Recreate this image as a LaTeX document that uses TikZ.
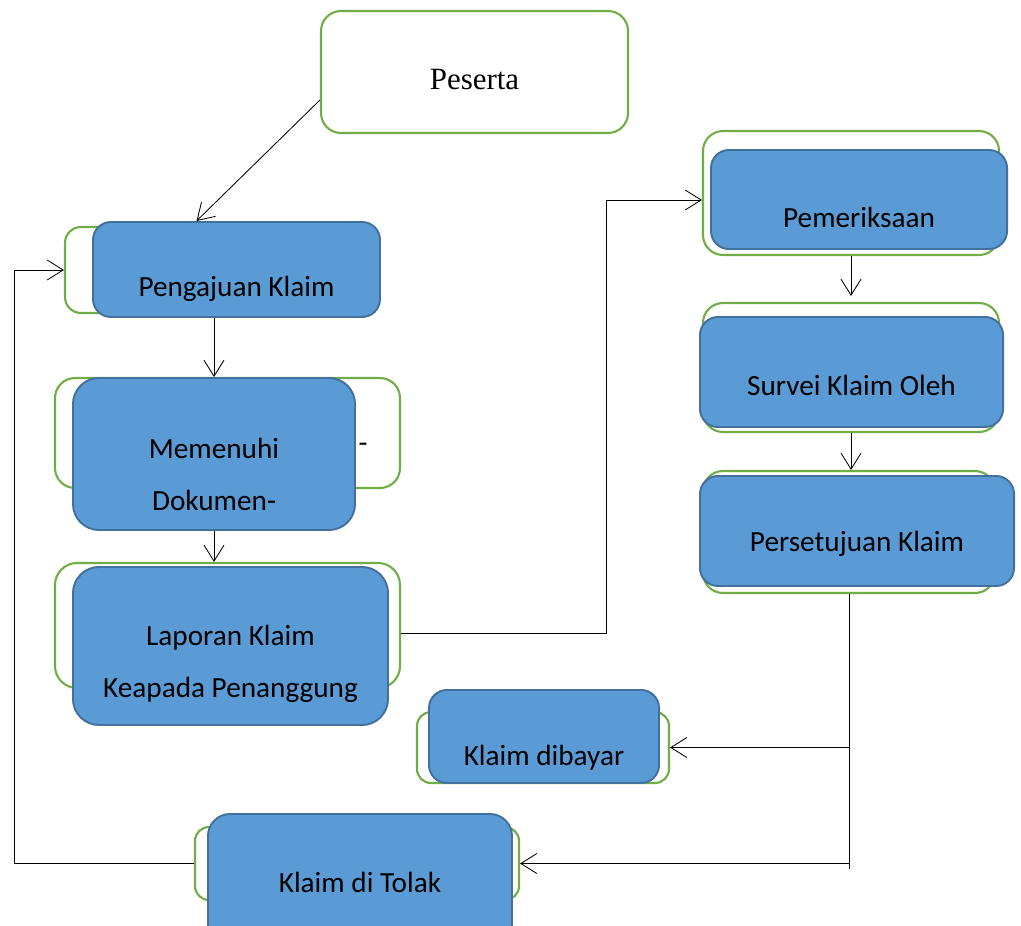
\documentclass[tikz,border=0pt]{standalone}
\usepackage{fontspec}
\setmainfont{Liberation Serif}
\newfontfamily\boxfont{Carlito}
\usetikzlibrary{arrows.meta,positioning}
\definecolor{boxblue}{HTML}{5B9BD5}
\definecolor{boxedge}{HTML}{41719C}
\definecolor{boxgreen}{HTML}{70AD47}

\begin{document}
\begin{tikzpicture}[
  >={Straight Barb[length=0.4cm,width=0.5cm]},
  greenbox/.style={draw=boxgreen,line width=1.5pt,rounded corners=0.4cm,fill=white,inner sep=0pt},
  bluebox/.style={draw=boxedge,line width=1.4pt,rounded corners=0.45cm,fill=boxblue,inner sep=0pt},
  txt/.style={font=\boxfont\fontsize{20.8}{37}\selectfont,align=center,inner sep=0pt},
  arr/.style={->,line width=0.6pt}]
\useasboundingbox (0,0) rectangle (25.525,-23.125);
\clip (0,0) rectangle (25.525,-23.125);
% left column
\node (ps) [greenbox,minimum width=7.675cm,minimum height=3.05cm,rounded corners=0.5cm,
  label={[font=\fontsize{22}{26}\selectfont,yshift=-0.2cm]center:Peserta}] at (11.8625,-1.8) {};
\node (pkg) [greenbox,minimum width=7.625cm,minimum height=2.15cm] at (5.4375,-6.75) {};
\node (pk) [bluebox,minimum width=7.175cm,minimum height=2.375cm,
  label={[txt,yshift=-0.49cm]center:Pengajuan Klaim}] at (5.9125,-6.7375) {};
\node (mmg) [greenbox,minimum width=8.625cm,minimum height=2.75cm,rounded corners=0.5cm] at (5.6875,-10.825) {};
\node (dash) [txt] at (9.075,-11.2) {-};
\node (mm) [bluebox,minimum width=7.05cm,minimum height=3.8cm,rounded corners=0.65cm,
  label={[txt,yshift=-0.5cm]center:Memenuhi\\Dokumen-}] at (5.35,-11.35) {};
\node (lpg) [greenbox,minimum width=8.625cm,minimum height=3.125cm,rounded corners=0.55cm] at (5.6875,-15.6375) {};
\node (lp) [bluebox,minimum width=7.875cm,minimum height=3.95cm,rounded corners=0.65cm,
  label={[txt,yshift=-0.45cm]center:Laporan Klaim\\Keapada Penanggung}] at (5.7625,-16.15) {};
% right column
\node (peg) [greenbox,minimum width=7.4cm,minimum height=3.1cm,rounded corners=0.5cm] at (21.275,-4.825) {};
\node (pe) [bluebox,minimum width=7.4cm,minimum height=2.475cm,
  label={[txt,yshift=-0.44cm]center:Pemeriksaan}] at (21.475,-4.9875) {};
\node (svg) [greenbox,minimum width=7.4cm,minimum height=3.225cm,rounded corners=0.5cm] at (21.275,-9.1875) {};
\node (sv) [bluebox,minimum width=7.575cm,minimum height=2.75cm,
  label={[txt,yshift=-0.33cm]center:Survei Klaim Oleh}] at (21.2875,-9.3) {};
\node (stg) [greenbox,minimum width=7.3cm,minimum height=3.05cm,rounded corners=0.5cm] at (21.225,-13.3) {};
\node (st) [bluebox,minimum width=7.85cm,minimum height=2.75cm,
  label={[txt,yshift=-0.33cm]center:Persetujuan Klaim}] at (21.425,-13.275) {};
% results
\node (kbg) [greenbox,minimum width=6.3cm,minimum height=1.775cm,rounded corners=0.35cm] at (13.575,-18.6875) {};
\node (kb) [bluebox,minimum width=5.75cm,minimum height=2.325cm,
  label={[txt,yshift=-0.54cm]center:Klaim dibayar}] at (13.6,-18.4125) {};
\node (ktg) [greenbox,minimum width=8.1cm,minimum height=1.825cm,rounded corners=0.35cm] at (8.925,-21.5875) {};
\node (kt) [bluebox,minimum width=7.6cm,minimum height=3.4cm,rounded corners=0.55cm,
  label={[txt]center:Klaim di Tolak}] at (9.0,-22.05) {};
%
\coordinate (cr) at ([yshift=-6.875cm]stg.south);
\coordinate (lft) at (0.35,-6.75);
\path[arr] ([yshift=-0.7cm]ps.west) edge ([xshift=-1cm]pk.north);
\path[arr] (pk.south -| mm.north) edge (mm.north);
\path[arr] (mm.south) edge (mm.south |- lpg.north);
\draw[arr] ([yshift=-0.2cm]lpg.east) -- ++(5.125,0) |- ([yshift=-0.175cm]peg.west);
\path[arr] (peg.south) edge ([yshift=0.15cm]svg.north);
\path[arr] (svg.south) edge (svg.south |- stg.north);
\draw[line width=0.6pt] (stg.south) -- (cr);
\draw[arr] (cr |- kbg.east) -- (kbg.east);
\draw[arr] (cr |- ktg.east) -- (ktg.east);
\draw[arr] (ktg.west) -| (lft) -- (pkg.west);
\end{tikzpicture}
\end{document}
